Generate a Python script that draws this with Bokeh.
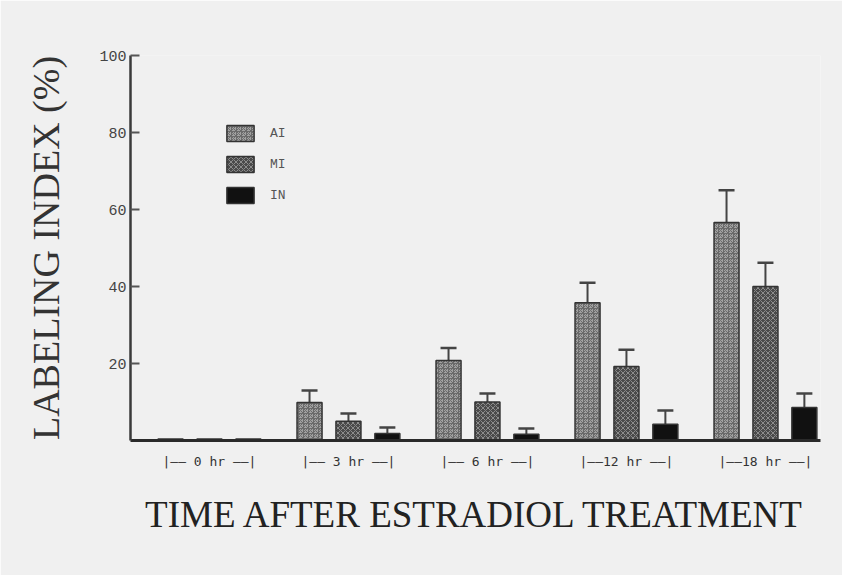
import numpy as np
from bokeh.plotting import figure
from bokeh.models import ColumnDataSource, Whisker, TeeHead, FixedTicker, Legend, LegendItem
from bokeh.embed import file_html
from bokeh.resources import INLINE

times = ["0 hr", "3 hr", "6 hr", "12 hr", "18 hr"]
tick_labels = ["|—— 0 hr ——|", "|—— 3 hr ——|", "|—— 6 hr ——|", "|——12 hr ——|", "|——18 hr ——|"]
series = ["AI", "MI", "IN"]
ai = [0.4, 9.9, 20.8, 35.8, 56.6]
ai_err = [0.0, 3.1, 3.2, 5.2, 8.4]
mi = [0.4, 5.0, 10.0, 19.2, 40.0]
mi_err = [0.0, 2.0, 2.2, 4.4, 6.2]
inn = [0.4, 1.8, 1.6, 4.2, 8.6]
inn_err = [0.0, 1.6, 1.5, 3.6, 3.6]
y_ticks = [20, 40, 60, 80, 100]

BG = "#f0f0f0"
p = figure(width=842, height=575, output_backend="svg", toolbar_location=None,
           x_range=(-0.568, 4.396), y_range=(0, 100),
           min_border_left=130, min_border_right=22, min_border_top=55, min_border_bottom=135)
p.background_fill_color = BG
p.border_fill_color = BG
p.outline_line_color = None
p.grid.visible = False

idx = np.arange(len(times))
offsets = [-0.28, 0.0, 0.28]
styles = [
    dict(fill_color="#a0a0a0", hatch_pattern="criss_cross", hatch_color="#6a6a6a", hatch_scale=5, hatch_weight=1),
    dict(fill_color="#4a4a4a", hatch_pattern="diagonal_cross", hatch_color="#8c8c8c", hatch_scale=5, hatch_weight=1),
    dict(fill_color="#111111", hatch_pattern=None),
]
vals = [ai, mi, inn]
errs = [ai_err, mi_err, inn_err]
renderers = []
for name, off, st, v, e in zip(series, offsets, styles, vals, errs):
    x = idx + off
    src = ColumnDataSource(dict(x=x, top=v))
    kw = dict(st)
    if kw.get("hatch_pattern") is None:
        kw.pop("hatch_pattern")
    r = p.vbar(x="x", top="top", width=0.18, bottom=0, source=src,
               line_color="#333333", line_width=1.5, **kw)
    renderers.append(r)
    v_arr = np.array(v)
    e_arr = np.array(e)
    m = e_arr > 0
    wsrc = ColumnDataSource(dict(base=x[m], lower=v_arr[m], upper=(v_arr + e_arr)[m]))
    w = Whisker(base="base", lower="lower", upper="upper", source=wsrc,
                line_color="#444444", line_width=2,
                upper_head=TeeHead(size=16, line_color="#444444", line_width=2.5),
                lower_head=None)
    p.add_layout(w)

# axes
p.yaxis.ticker = FixedTicker(ticks=y_ticks)
p.yaxis.axis_line_color = "#3a3a3a"
p.yaxis.axis_line_width = 2.5
p.yaxis.major_tick_in = 9
p.yaxis.major_tick_out = 0
p.yaxis.major_tick_line_width = 2
p.yaxis.major_tick_line_color = "#555555"
p.yaxis.minor_tick_line_color = None
p.yaxis.major_label_text_font = "Liberation Mono"
p.yaxis.major_label_text_font_size = "15px"
p.yaxis.major_label_text_color = "#444444"
p.yaxis.major_label_standoff = 4
p.yaxis.axis_label = "LABELING INDEX (%)"
p.yaxis.axis_label_text_font = "Liberation Serif"
p.yaxis.axis_label_text_font_style = "normal"
p.yaxis.axis_label_text_font_size = "38px"
p.yaxis.axis_label_text_color = "#333333"
p.yaxis.axis_label_standoff = 29

p.xaxis.ticker = FixedTicker(ticks=list(idx))
p.xaxis.major_label_overrides = {int(i): t for i, t in zip(idx, tick_labels)}
p.xaxis.axis_line_color = "#2a2a2a"
p.xaxis.axis_line_width = 3
p.xaxis.major_tick_line_color = None
p.xaxis.minor_tick_line_color = None
p.xaxis.major_label_text_font = "DejaVu Sans Mono"
p.xaxis.major_label_text_font_size = "13px"
p.xaxis.major_label_text_color = "#333333"
p.xaxis.major_label_standoff = 7
p.xaxis.axis_label = "TIME AFTER ESTRADIOL TREATMENT"
p.xaxis.axis_label_text_font = "Liberation Serif"
p.xaxis.axis_label_text_font_style = "normal"
p.xaxis.axis_label_text_font_size = "37px"
p.xaxis.axis_label_text_color = "#222222"
p.xaxis.axis_label_standoff = 22

legend = Legend(items=[LegendItem(label=n, renderers=[r]) for n, r in zip(series, renderers)],
                location=(93, 235), orientation="vertical",
                glyph_width=34, glyph_height=20, label_height=20, spacing=11,
                padding=0, margin=0, border_line_color=None, background_fill_alpha=0,
                label_text_font="Liberation Mono", label_text_font_size="13px",
                label_text_color="#555555", label_standoff=13)
p.add_layout(legend, "center")

open("out.html", "w").write(file_html(p, INLINE))
